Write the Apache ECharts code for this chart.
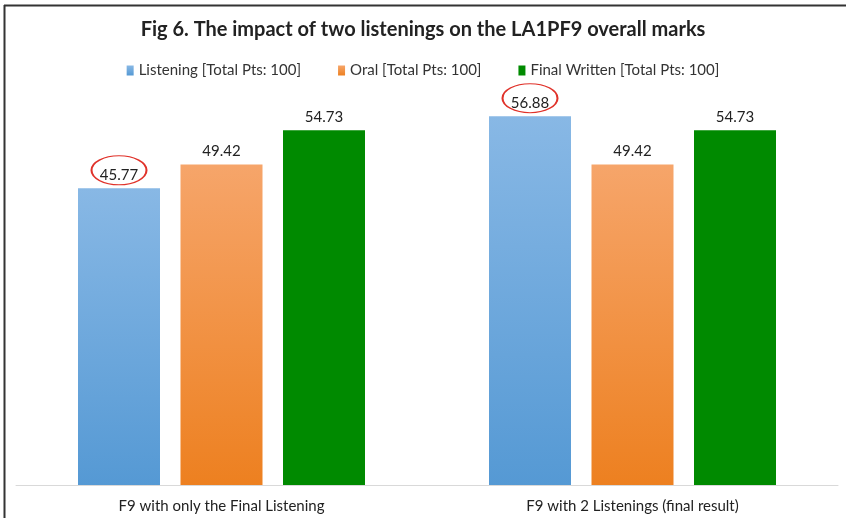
<!DOCTYPE html>
<html><head><meta charset="utf-8">
<script src="https://cdn.jsdelivr.net/npm/echarts@6/dist/echarts.min.js"></script>
<style>html,body{margin:0;padding:0;background:#fff}#c{width:846px;height:518px}</style>
</head><body><div id="c"></div>
<script>
const categories = ['F9 with only the Final Listening', 'F9 with 2 Listenings (final result)'];
const listening = [45.77, 56.88];
const oral = [49.42, 49.42];
const finalWritten = [54.73, 54.73];
const seriesNames = ['Listening [Total Pts: 100]', 'Oral [Total Pts: 100]', 'Final Written [Total Pts: 100]'];
const circled = [0, 1];

const font = 'Lato, "Open Sans", sans-serif';
function grad(top, bottom){
  return new echarts.graphic.LinearGradient(0,0,0,1,[{offset:0,color:top},{offset:1,color:bottom}]);
}
const chart = echarts.init(document.getElementById('c'));
const lbl = {show:true, position:'top', distance:6, color:'#222', fontSize:15, fontFamily:font};
chart.setOption({
  animation:false,
  title:{text:'Fig 6. The impact of two listenings on the LA1PF9 overall marks', left:'center', top:15,
    textStyle:{fontSize:20, fontWeight:'bold', color:'#222', fontFamily:font}},
  legend:{top:58, left:'center', itemWidth:7, itemHeight:10, itemGap:37, icon:'rect',
    textStyle:{fontSize:15, color:'#333', fontFamily:font}, data:seriesNames},
  grid:{left:16, right:8, top:96, bottom:33, containLabel:false},
  xAxis:{type:'category', data:categories, axisTick:{show:false},
    axisLine:{lineStyle:{color:'#d9d9d9', width:1}},
    axisLabel:{fontSize:15, color:'#222', fontFamily:font, margin:14}},
  yAxis:{type:'value', min:0, max:60, show:false, splitLine:{show:false}},
  graphic:[
    {type:'line', shape:{x1:4.5,y1:5,x2:4.5,y2:518}, style:{stroke:'#333', lineWidth:2}},
    {type:'line', shape:{x1:4,y1:5.5,x2:846,y2:5.5}, style:{stroke:'#333', lineWidth:2}}
  ],
  series:[
    {name:seriesNames[0], type:'bar', data:listening, barWidth:82, barGap:'25%', barCategoryGap:'25%',
      itemStyle:{color:grad('#88b8e5','#5599d4')}, label:lbl,
      markPoint:{symbol:'circle', symbolSize:[55,29], symbolOffset:[0,-18], silent:true,
        itemStyle:{color:'rgba(0,0,0,0)', borderColor:'#e0322a', borderWidth:1.5},
        label:{show:false},
        data:circled.map(i=>({coord:[i, listening[i]]}))}},
    {name:seriesNames[1], type:'bar', data:oral, barWidth:82,
      itemStyle:{color:grad('#f6a56a','#ed8020')}, label:lbl},
    {name:seriesNames[2], type:'bar', data:finalWritten, barWidth:82,
      itemStyle:{color:'#008a00'}, label:lbl}
  ]
});
</script></body></html>
